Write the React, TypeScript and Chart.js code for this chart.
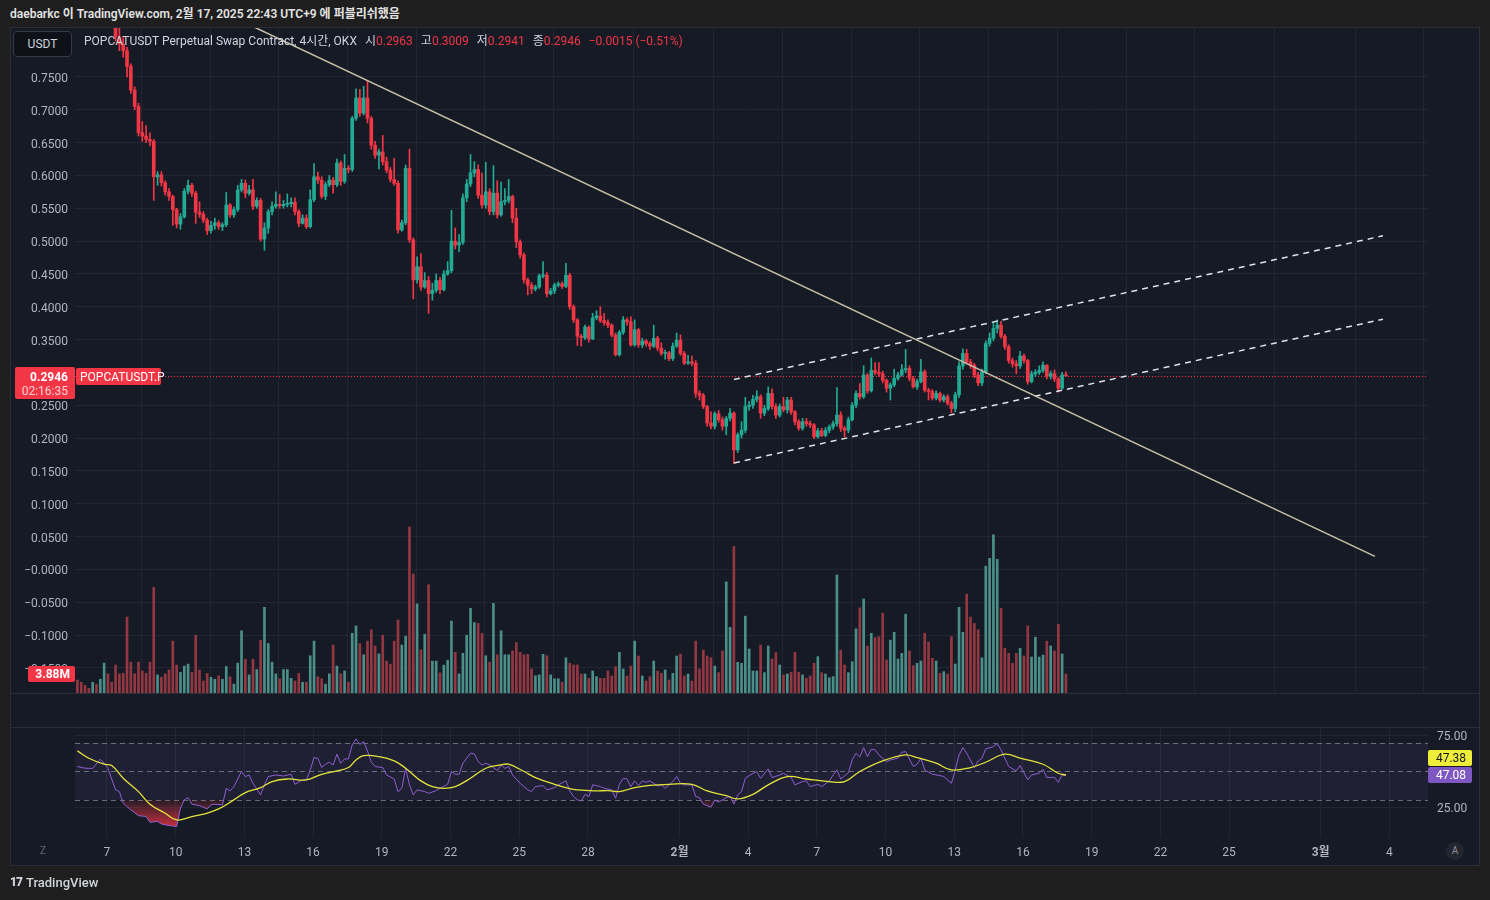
import React, { useEffect, useRef } from "react";
import { Chart, registerables } from "chart.js";

Chart.register(...registerables);

const FONT = "Roboto, 'Noto Sans CJK KR', 'Noto Sans', sans-serif";

// ---------------- data (4h candles, first one opens Jan 5 17:00 KST) ----------------
const firstOpen = 0.99;

const closes = [
  0.975, 0.962, 0.950, 0.942, 0.955, 0.935, 0.945, 0.960, 0.905, 0.862,
  0.811, 0.800, 0.790, 0.766, 0.730, 0.705, 0.665, 0.660, 0.655, 0.652,
  0.598, 0.601, 0.589, 0.575, 0.568, 0.548, 0.526, 0.537, 0.576, 0.585,
  0.573, 0.544, 0.541, 0.532, 0.516, 0.524, 0.528, 0.522, 0.525, 0.555,
  0.540, 0.548, 0.578, 0.588, 0.573, 0.578, 0.553, 0.562, 0.503, 0.520,
  0.545, 0.553, 0.556, 0.554, 0.556, 0.557, 0.559, 0.545, 0.527, 0.535,
  0.522, 0.563, 0.598, 0.593, 0.568, 0.586, 0.593, 0.586, 0.619, 0.591,
  0.611, 0.609, 0.687, 0.718, 0.695, 0.718, 0.687, 0.646, 0.631, 0.636,
  0.621, 0.608, 0.594, 0.588, 0.517, 0.528, 0.611, 0.502, 0.441, 0.461,
  0.430, 0.440, 0.420, 0.425, 0.440, 0.426, 0.450, 0.455, 0.500, 0.494,
  0.498, 0.566, 0.587, 0.604, 0.609, 0.570, 0.555, 0.575, 0.545, 0.573,
  0.540, 0.560, 0.562, 0.568, 0.535, 0.499, 0.479, 0.441, 0.433, 0.427,
  0.430, 0.447, 0.448, 0.420, 0.424, 0.433, 0.435, 0.431, 0.448, 0.400,
  0.380, 0.355, 0.353, 0.369, 0.351, 0.383, 0.386, 0.379, 0.376, 0.372,
  0.357, 0.327, 0.361, 0.380, 0.377, 0.342, 0.365, 0.342, 0.348, 0.344,
  0.340, 0.352, 0.337, 0.329, 0.330, 0.321, 0.340, 0.349, 0.329, 0.314,
  0.316, 0.314, 0.268, 0.265, 0.248, 0.223, 0.218, 0.237, 0.228, 0.218,
  0.230, 0.238, 0.182, 0.205, 0.212, 0.248, 0.250, 0.259, 0.263, 0.238,
  0.245, 0.268, 0.248, 0.235, 0.248, 0.243, 0.258, 0.240, 0.225, 0.215,
  0.225, 0.222, 0.220, 0.202, 0.211, 0.204, 0.212, 0.217, 0.222, 0.235,
  0.215, 0.212, 0.228, 0.250, 0.268, 0.263, 0.296, 0.272, 0.303, 0.300,
  0.298, 0.288, 0.276, 0.281, 0.291, 0.296, 0.304, 0.306, 0.291, 0.278,
  0.286, 0.301, 0.273, 0.271, 0.261, 0.268, 0.258, 0.263, 0.253, 0.245,
  0.266, 0.310, 0.329, 0.316, 0.311, 0.296, 0.284, 0.301, 0.344, 0.352,
  0.367, 0.372, 0.355, 0.339, 0.318, 0.313, 0.310, 0.325, 0.318, 0.286,
  0.298, 0.300, 0.303, 0.311, 0.294, 0.298, 0.290, 0.276, 0.2963, 0.2946,
];

const highs = [
  1.000, 0.985, 0.970, 0.955, 0.965, 0.960, 0.955, 0.985, 0.965, 0.910,
  0.870, 0.830, 0.810, 0.795, 0.770, 0.735, 0.710, 0.682, 0.676, 0.665,
  0.655, 0.606, 0.606, 0.592, 0.580, 0.570, 0.550, 0.542, 0.580, 0.593,
  0.588, 0.576, 0.560, 0.545, 0.535, 0.530, 0.535, 0.531, 0.528, 0.574,
  0.557, 0.552, 0.585, 0.594, 0.593, 0.585, 0.594, 0.566, 0.565, 0.528,
  0.548, 0.560, 0.575, 0.571, 0.562, 0.572, 0.566, 0.566, 0.548, 0.540,
  0.540, 0.578, 0.618, 0.605, 0.598, 0.590, 0.600, 0.597, 0.625, 0.622,
  0.632, 0.615, 0.690, 0.732, 0.731, 0.736, 0.744, 0.690, 0.652, 0.640,
  0.661, 0.628, 0.612, 0.626, 0.592, 0.532, 0.616, 0.640, 0.505, 0.476,
  0.481, 0.452, 0.446, 0.436, 0.450, 0.445, 0.455, 0.469, 0.547, 0.520,
  0.510, 0.572, 0.594, 0.632, 0.621, 0.616, 0.604, 0.620, 0.580, 0.615,
  0.592, 0.590, 0.580, 0.594, 0.570, 0.550, 0.502, 0.482, 0.444, 0.437,
  0.433, 0.450, 0.469, 0.452, 0.428, 0.436, 0.438, 0.438, 0.466, 0.451,
  0.403, 0.382, 0.358, 0.372, 0.371, 0.390, 0.394, 0.400, 0.390, 0.380,
  0.374, 0.360, 0.364, 0.385, 0.383, 0.385, 0.380, 0.367, 0.352, 0.350,
  0.347, 0.372, 0.355, 0.345, 0.334, 0.332, 0.345, 0.360, 0.357, 0.332,
  0.326, 0.325, 0.318, 0.272, 0.268, 0.250, 0.240, 0.240, 0.242, 0.232,
  0.233, 0.245, 0.240, 0.208, 0.225, 0.262, 0.256, 0.265, 0.272, 0.266,
  0.250, 0.278, 0.275, 0.252, 0.252, 0.262, 0.262, 0.262, 0.242, 0.228,
  0.230, 0.230, 0.226, 0.222, 0.215, 0.215, 0.216, 0.220, 0.226, 0.277,
  0.240, 0.218, 0.232, 0.254, 0.272, 0.283, 0.310, 0.298, 0.322, 0.315,
  0.315, 0.302, 0.290, 0.284, 0.305, 0.300, 0.312, 0.335, 0.310, 0.294,
  0.290, 0.320, 0.304, 0.276, 0.274, 0.272, 0.270, 0.266, 0.266, 0.256,
  0.270, 0.316, 0.336, 0.335, 0.320, 0.314, 0.300, 0.305, 0.348, 0.360,
  0.376, 0.380, 0.378, 0.358, 0.342, 0.322, 0.318, 0.332, 0.328, 0.320,
  0.302, 0.304, 0.310, 0.316, 0.312, 0.302, 0.304, 0.292, 0.300, 0.3009,
];

const lows = [
  0.960, 0.950, 0.940, 0.930, 0.935, 0.925, 0.925, 0.940, 0.895, 0.850,
  0.805, 0.790, 0.780, 0.750, 0.725, 0.700, 0.660, 0.652, 0.650, 0.645,
  0.562, 0.585, 0.584, 0.570, 0.562, 0.524, 0.520, 0.518, 0.535, 0.572,
  0.568, 0.527, 0.536, 0.528, 0.510, 0.512, 0.518, 0.518, 0.516, 0.522,
  0.536, 0.536, 0.545, 0.575, 0.566, 0.570, 0.548, 0.550, 0.500, 0.486,
  0.512, 0.540, 0.550, 0.550, 0.550, 0.552, 0.552, 0.540, 0.522, 0.526,
  0.519, 0.520, 0.560, 0.588, 0.565, 0.563, 0.583, 0.573, 0.583, 0.585,
  0.588, 0.604, 0.606, 0.684, 0.690, 0.692, 0.680, 0.640, 0.626, 0.610,
  0.616, 0.604, 0.590, 0.585, 0.512, 0.515, 0.525, 0.498, 0.412, 0.436,
  0.425, 0.428, 0.390, 0.410, 0.422, 0.420, 0.424, 0.448, 0.452, 0.488,
  0.484, 0.495, 0.560, 0.583, 0.598, 0.565, 0.550, 0.550, 0.540, 0.540,
  0.535, 0.538, 0.555, 0.558, 0.528, 0.490, 0.474, 0.436, 0.418, 0.420,
  0.424, 0.428, 0.444, 0.415, 0.418, 0.420, 0.430, 0.428, 0.429, 0.396,
  0.376, 0.341, 0.340, 0.350, 0.346, 0.350, 0.380, 0.376, 0.372, 0.368,
  0.354, 0.325, 0.325, 0.358, 0.372, 0.340, 0.340, 0.338, 0.338, 0.340,
  0.335, 0.338, 0.333, 0.326, 0.320, 0.318, 0.318, 0.338, 0.326, 0.312,
  0.312, 0.310, 0.262, 0.258, 0.245, 0.218, 0.214, 0.214, 0.224, 0.212,
  0.205, 0.226, 0.161, 0.178, 0.200, 0.208, 0.242, 0.245, 0.255, 0.230,
  0.234, 0.242, 0.244, 0.230, 0.232, 0.240, 0.238, 0.236, 0.220, 0.212,
  0.212, 0.218, 0.216, 0.199, 0.200, 0.202, 0.202, 0.208, 0.213, 0.218,
  0.210, 0.202, 0.208, 0.226, 0.246, 0.259, 0.260, 0.268, 0.270, 0.296,
  0.294, 0.284, 0.270, 0.258, 0.278, 0.288, 0.294, 0.300, 0.287, 0.276,
  0.274, 0.284, 0.270, 0.258, 0.258, 0.258, 0.255, 0.255, 0.250, 0.238,
  0.240, 0.262, 0.305, 0.313, 0.306, 0.292, 0.280, 0.280, 0.298, 0.340,
  0.348, 0.360, 0.352, 0.335, 0.314, 0.308, 0.298, 0.306, 0.314, 0.282,
  0.284, 0.294, 0.297, 0.300, 0.290, 0.290, 0.286, 0.270, 0.274, 0.2941,
];

// volume in millions
const volumesM = [
  2.65, 2.2, 1.6, 0.95, 2.2, 1.8, 2.8, 6.1, 3.9, 2.2,
  5.7, 3.9, 4.0, 15.5, 6.3, 3.9, 6.3, 4.5, 4.0, 6.3,
  21.6, 3.7, 3.2, 3.9, 4.7, 10.6, 5.7, 4.2, 5.5, 5.9,
  4.2, 11.8, 4.7, 2.45, 4.0, 3.2, 2.8, 3.5, 2.8, 5.4,
  3.3, 1.8, 6.1, 12.7, 6.9, 3.7, 6.9, 4.8, 10.8, 17.5,
  10.1, 6.3, 3.9, 2.9, 4.8, 4.8, 3.0, 2.45, 4.0, 2.2,
  2.2, 7.6, 10.6, 3.3, 2.9, 1.8, 3.9, 9.8, 5.5, 3.9,
  4.5, 2.2, 12.2, 13.7, 10.1, 7.8, 10.6, 12.9, 9.6, 8.0,
  11.8, 6.5, 5.9, 10.6, 14.9, 9.8, 11.6, 33.9, 24.3, 18.2,
  8.8, 12.0, 22.1, 6.5, 6.5, 4.1, 5.7, 6.7, 14.7, 8.3,
  3.9, 8.1, 11.8, 17.3, 14.4, 14.2, 12.2, 7.6, 6.3, 18.3,
  7.8, 12.7, 7.8, 7.8, 8.6, 10.3, 8.3, 7.8, 7.9, 4.9,
  3.5, 3.7, 7.9, 7.6, 3.7, 2.9, 2.9, 2.2, 7.2, 6.06,
  5.72, 5.72, 3.88, 3.88, 3.0, 4.49, 3.34, 3.0, 3.0, 4.49,
  3.47, 5.38, 8.3, 4.9, 3.47, 5.51, 10.6, 7.56, 3.47, 2.45,
  3.34, 6.53, 4.49, 4.02, 4.7, 2.65, 4.02, 7.56, 7.96, 3.47,
  3.88, 2.45, 10.6, 4.9, 8.78, 7.56, 7.2, 5.51, 4.15, 8.58,
  22.7, 13.4, 29.9, 6.26, 6.06, 15.7, 8.99, 4.49, 4.49, 9.8,
  4.15, 9.6, 6.94, 8.24, 5.72, 3.68, 3.88, 4.22, 8.3, 4.22,
  3.68, 3.0, 3.47, 6.06, 7.42, 4.15, 3.88, 3.13, 3.34, 24.1,
  8.78, 5.72, 4.15, 6.4, 13.1, 17.4, 19.2, 9.6, 12.2, 11.3,
  11.5, 16.3, 6.74, 10.8, 12.4, 6.94, 8.1, 16.1, 8.58, 5.58,
  6.06, 6.53, 12.2, 10.4, 7.08, 6.53, 4.02, 4.36, 3.88, 11.5,
  5.92, 17.5, 12.4, 20.2, 15.5, 14.2, 12.9, 7.2, 25.9, 27.5,
  32.3, 27.3, 17.3, 9.12, 8.1, 6.06, 8.1, 9.12, 7.56, 13.7,
  7.35, 11.4, 7.35, 7.76, 10.6, 9.6, 8.58, 14.0, 7.96, 3.88,
];

// RSI(14): [candle index, value]
const rsiPoints = [
  [0, 53.3], [2, 52.1], [4, 52], [6, 58.4], [7, 55.6], [8, 52], [10, 37], [11, 35.8], [12, 27.7], [14, 23],
  [16, 19], [18, 18.4], [19, 14.4], [21, 14.9], [22, 13.2], [24, 12.1], [26, 11.4], [27, 24.2], [28, 30], [29, 31.6],
  [30, 27], [32, 26], [34, 23.7], [35, 26.5], [36, 27], [38, 26.5], [39, 38], [40, 36.3], [41, 39.3], [43, 49.8],
  [44, 46.3], [45, 47.4], [46, 41.6], [48, 33.5], [49, 40.5], [50, 46.3], [52, 47.4], [54, 46.7], [56, 47.9], [57, 40.9],
  [59, 44], [60, 44], [61, 50.9], [62, 59.5], [63, 59], [64, 52.6], [65, 54.9], [66, 56.3], [67, 54.4], [68, 61.9],
  [69, 55.6], [70, 58.6], [71, 58.6], [72, 68.4], [73, 72.6], [74, 68.8], [75, 70.7], [76, 64.2], [77, 56.3], [78, 53.3],
  [80, 52.6], [81, 47.4], [83, 44.6], [84, 35.8], [85, 38.1], [86, 52.1], [87, 40.5], [88, 33.5], [89, 37], [91, 35.8],
  [92, 34.6], [94, 36.5], [95, 38.1], [97, 40.9], [98, 49.8], [99, 47.9], [100, 47.9], [101, 55.6], [102, 59.1], [103, 62.6],
  [104, 62.1], [105, 56.7], [106, 54.4], [107, 55.6], [108, 54.4], [110, 50.5], [111, 54.4], [112, 52], [113, 53.3], [114, 47.4],
  [116, 41.6], [118, 37], [119, 35.8], [120, 39.3], [122, 40], [123, 37], [125, 38.6], [126, 40.5], [128, 43.3], [129, 36.3],
  [130, 32.3], [131, 30], [132, 29.3], [133, 33.9], [134, 32.3], [135, 40.5], [136, 40], [137, 39.3], [138, 38.1], [140, 37],
  [141, 31.2], [142, 40.9], [143, 45.1], [144, 44.6], [145, 39.3], [146, 43.3], [147, 40], [148, 43.3], [149, 42.3], [150, 43.3],
  [152, 39.8], [153, 40.5], [154, 38.1], [156, 42.8], [157, 46.3], [158, 41.6], [159, 40.5], [161, 40.5], [162, 32.3], [163, 31.6],
  [164, 27], [166, 24.9], [167, 30], [168, 28.4], [170, 31.6], [171, 32.3], [172, 27], [173, 33.5], [174, 35.8], [175, 45.1],
  [176, 47], [178, 49.8], [179, 45.1], [181, 51.6], [182, 45.6], [184, 47.4], [185, 48.6], [187, 45.6], [188, 40.5], [190, 42.8],
  [191, 43.3], [192, 39.3], [194, 40.9], [195, 39.3], [197, 43.3], [198, 47.4], [199, 50.9], [200, 44.6], [202, 49], [203, 58],
  [204, 62.6], [205, 60], [206, 66.5], [207, 60.2], [208, 65.4], [209, 64.9], [210, 61.4], [212, 56.7], [213, 57.9], [215, 59.1],
  [216, 63.3], [217, 63.7], [219, 53.3], [220, 54.9], [221, 59.1], [222, 50.9], [224, 47.9], [226, 47], [227, 46.3], [229, 41.6],
  [230, 50.9], [231, 61.4], [232, 66.5], [233, 62.6], [235, 52.6], [236, 57.2], [237, 59.1], [238, 65.6], [240, 67.2], [241, 69.3],
  [242, 64.9], [244, 53.3], [246, 50.2], [247, 54], [249, 44], [250, 47.4], [252, 48.6], [253, 51.4], [254, 45.6], [256, 45.8],
  [257, 42.3], [258, 47.4], [259, 47.08],
];

// RSI-based moving average: [candle index, value]
const rsiMaPoints = [
  [0, 64.2], [3, 59.1], [7, 54.9], [9, 54], [12, 45.1], [16, 35.8], [19, 27], [23, 20.7], [26, 16], [30, 18.4],
  [33, 20], [37, 23.7], [41, 30], [44, 35.1], [48, 38.6], [51, 42.8], [55, 44.6], [60, 44], [64, 47.9], [68, 50.2],
  [71, 52.6], [73, 57.9], [75, 60.9], [79, 60.2], [83, 57.2], [86, 52.1], [90, 43.3], [93, 39.3], [96, 38.1], [99, 39.3],
  [103, 45.1], [107, 52.1], [111, 54.4], [113, 54.9], [117, 49.8], [120, 45.6], [125, 40.9], [128, 38.6], [131, 37], [136, 36.3],
  [139, 36.5], [142, 35.8], [146, 38.6], [150, 40.2], [155, 40.9], [161, 40.9], [165, 36.3], [170, 33], [173, 30.7], [177, 33.9],
  [181, 40.5], [186, 46.3], [191, 44.6], [197, 42.8], [201, 42.8], [205, 49.8], [211, 57.2], [217, 61.4], [220, 59.5], [225, 55.6],
  [229, 50.9], [234, 52.6], [238, 56.3], [243, 61.9], [247, 59.1], [253, 54.9], [257, 48.6], [259, 47.38],
];

// time axis: days from Jan 7 00:00 KST
const timeTickDays = [0, 3, 6, 9, 12, 15, 18, 21, 25, 28, 31, 34, 37, 40, 43, 46, 49, 53, 56];
const timeTickLabels = ["7", "10", "13", "16", "19", "22", "25", "28", "2월", "4", "7", "10", "13", "16", "19", "22", "25", "3월", "4"];
const monthTickDays = [25, 53];

const priceTicks = [0.75, 0.7, 0.65, 0.6, 0.55, 0.5, 0.45, 0.4, 0.35, 0.3, 0.25, 0.2, 0.15, 0.1, 0.05, 0, -0.05, -0.1, -0.15];
const rsiTicks = [75, 25];
const rsiLevels = [70, 50, 30];

// drawings: [day, price]
const trendLine = [[5.0, 0.8495], [55.37, 0.0199]];
const channelUpper = [[27.38, 0.2893], [55.72, 0.5081]];
const channelLower = [[27.38, 0.1621], [55.72, 0.3811]];

const lastPrice = 0.2946;
const lastVolumeM = 3.88;
const lastRsi = 47.08;
const lastRsiMa = 47.38;
const symbol = "POPCATUSDT.P";
const countdown = "02:16:35";
const ohlcText = { o: "0.2963", h: "0.3009", l: "0.2941", c: "0.2946", chg: "−0.0015 (−0.51%)" };

// ---------------- view ----------------
const X_MIN = -1.397;
const X_MAX = 57.686;
const P_MIN = -0.1883;
const P_MAX = 0.8246;
const VOL_MAX = 135.8;
const RSI_MIN = 3.4;
const RSI_MAX = 80.2;

const UP = "#22ab94";
const DOWN = "#f23645";
const VOL_UP = "#4b8f89";
const VOL_DOWN = "#933842";
const GRID = "#222632";
const TEXT = "#b2b5be";
const PANE_BG = "#161a25";

const dayOf = (i: number) => (4 * i - 31) / 24;

function rr(ctx: any, x: number, y: number, w: number, h: number, r: number) {
  ctx.beginPath();
  if (ctx.roundRect) ctx.roundRect(x, y, w, h, r);
  else ctx.rect(x, y, w, h);
}

const mainOverlay = {
  id: "mainOverlay",
  beforeDatasetsDraw(chart: any) {
    const { ctx, chartArea: a, scales } = chart;
    const y = Math.round(scales.y.getPixelForValue(lastPrice)) + 0.5;
    ctx.save();
    ctx.strokeStyle = DOWN;
    ctx.lineWidth = 1;
    ctx.setLineDash([1, 2]);
    ctx.beginPath();
    ctx.moveTo(a.left, y);
    ctx.lineTo(a.right, y);
    ctx.stroke();
    ctx.restore();
  },
  afterDraw(chart: any) {
    const { ctx, scales } = chart;
    const y = Math.round(scales.y.getPixelForValue(lastPrice));
    ctx.save();
    ctx.fillStyle = DOWN;
    rr(ctx, 5, y - 9, 60, 32, 2);
    ctx.fill();
    rr(ctx, 66, y - 8, 85, 17, 2);
    ctx.fill();
    ctx.textBaseline = "middle";
    ctx.textAlign = "right";
    ctx.fillStyle = "#ffffff";
    ctx.font = `bold 12px ${FONT}`;
    ctx.fillText(lastPrice.toFixed(4), 58, y + 1.5);
    ctx.font = `12px ${FONT}`;
    ctx.fillStyle = "rgba(255,225,228,0.9)";
    ctx.fillText(countdown, 58, y + 15.5);
    ctx.textAlign = "left";
    ctx.fillStyle = "#ffffff";
    ctx.fillText(symbol, 70, y + 1.5);

    const vy = Math.round(scales.yv.getPixelForValue(lastVolumeM));
    ctx.fillStyle = DOWN;
    rr(ctx, 18, vy - 8, 47, 16, 2);
    ctx.fill();
    ctx.fillStyle = "#ffffff";
    ctx.textAlign = "right";
    ctx.font = `bold 12px ${FONT}`;
    ctx.fillText(`${lastVolumeM.toFixed(2)}M`, 60, vy + 1);
    ctx.restore();
  },
};

const rsiOverlay = {
  id: "rsiOverlay",
  beforeDatasetsDraw(chart: any) {
    const { ctx, chartArea: a, scales } = chart;
    const ys = scales.y;
    const y70 = ys.getPixelForValue(70);
    const y30 = ys.getPixelForValue(30);
    ctx.save();
    ctx.fillStyle = "rgba(126,87,194,0.1)";
    ctx.fillRect(a.left, y70, a.right - a.left, y30 - y70);
    ctx.strokeStyle = "rgba(120,123,134,0.85)";
    ctx.lineWidth = 1;
    ctx.setLineDash([5, 4]);
    rsiLevels.forEach((v) => {
      const py = Math.round(ys.getPixelForValue(v)) + 0.5;
      ctx.beginPath();
      ctx.moveTo(a.left, py);
      ctx.lineTo(a.right, py);
      ctx.stroke();
    });
    ctx.restore();
  },
  afterDraw(chart: any) {
    const { ctx, chartArea: a, scales } = chart;
    const py = Math.round(scales.y.getPixelForValue(lastRsi));
    ctx.save();
    ctx.font = `12px ${FONT}`;
    ctx.textAlign = "center";
    ctx.textBaseline = "middle";
    // MA label (pushed up to avoid overlap)
    ctx.fillStyle = "#eded3a";
    rr(ctx, a.right, py - 25, 44, 16, 2);
    ctx.fill();
    ctx.fillStyle = "#131722";
    ctx.fillText(lastRsiMa.toFixed(2), a.right + 23, py - 16);
    // RSI label
    ctx.fillStyle = "#7e57c2";
    rr(ctx, a.right, py - 8, 44, 16, 2);
    ctx.fill();
    ctx.fillStyle = "#ffffff";
    ctx.fillText(lastRsi.toFixed(2), a.right + 23, py + 1);
    ctx.restore();
  },
};

export default function App() {
  const mainRef = useRef<HTMLCanvasElement>(null);
  const rsiRef = useRef<HTMLCanvasElement>(null);

  useEffect(() => {
    Chart.defaults.font.family = FONT;
    Chart.defaults.color = TEXT;

    const n = Math.min(closes.length, highs.length, lows.length, volumesM.length);
    const isUp: boolean[] = [];
    const bodies: any[] = [];
    const wicks: any[] = [];
    const vols: any[] = [];
    for (let i = 0; i < n; i++) {
      const o = i === 0 ? firstOpen : closes[i - 1];
      const c = closes[i];
      const hi = Math.max(highs[i], o, c);
      const lo = Math.min(lows[i], o, c);
      const x = dayOf(i);
      isUp.push(c >= o);
      bodies.push({ x, y: [Math.min(o, c), Math.max(o, c)] });
      wicks.push({ x, y: [lo, hi] });
      vols.push({ x, y: volumesM[i] });
    }
    const candleColors = isUp.map((u) => (u ? UP : DOWN));
    const volColors = isUp.map((u) => (u ? VOL_UP : VOL_DOWN));
    const pts = (arr: number[][]) => arr.map(([x, y]) => ({ x, y }));

    const setTimeTicks = (s: any) => {
      s.ticks = timeTickDays.map((v) => ({ value: v }));
    };

    const main = new Chart(mainRef.current as HTMLCanvasElement, {
      type: "bar",
      data: {
        datasets: [
          { type: "line", data: pts(trendLine), borderColor: "#c9c0a8", borderWidth: 1.5, pointRadius: 0, order: 1 } as any,
          { type: "line", data: pts(channelUpper), borderColor: "#dfe2ea", borderWidth: 1.5, borderDash: [6, 5], pointRadius: 0, order: 1 } as any,
          { type: "line", data: pts(channelLower), borderColor: "#dfe2ea", borderWidth: 1.5, borderDash: [6, 5], pointRadius: 0, order: 1 } as any,
          { type: "bar", data: bodies, backgroundColor: candleColors, barThickness: 3, minBarLength: 1, grouped: false, order: 3, clip: 0 } as any,
          { type: "bar", data: wicks, backgroundColor: candleColors, barThickness: 1, grouped: false, order: 4, clip: 0 } as any,
          { type: "bar", data: vols, yAxisID: "yv", backgroundColor: volColors, barThickness: 2, grouped: false, order: 5, clip: 0 } as any,
        ],
      },
      options: {
        responsive: false,
        animation: false,
        events: [],
        layout: { padding: { left: 0, right: 52, top: 0, bottom: 0 } },
        plugins: { legend: { display: false }, tooltip: { enabled: false } },
        scales: {
          x: {
            type: "linear",
            min: X_MIN,
            max: X_MAX,
            offset: false,
            ticks: { display: false },
            grid: { color: GRID, drawTicks: false },
            border: { display: false },
            afterBuildTicks: setTimeTicks,
            afterFit: (s: any) => {
              s.height = 0;
              s.paddingLeft = 0;
              s.paddingRight = 0;
            },
          },
          y: {
            type: "linear",
            position: "left",
            min: P_MIN,
            max: P_MAX,
            afterBuildTicks: (s: any) => {
              s.ticks = priceTicks.map((v) => ({ value: v }));
            },
            ticks: {
              autoSkip: false,
              padding: 7,
              labelOffset: 2,
              color: TEXT,
              font: { family: FONT, size: 12 },
              callback: (v: any) => (v <= 0.000001 ? "−" : "") + Math.abs(Number(v)).toFixed(4),
            },
            grid: { color: GRID, drawTicks: false },
            border: { display: false },
            afterFit: (s: any) => {
              s.width = 65;
              s.paddingTop = 0;
              s.paddingBottom = 0;
            },
          },
          yv: { type: "linear", display: false, min: 0, max: VOL_MAX },
        },
      } as any,
      plugins: [mainOverlay as any],
    });

    const rc = rsiRef.current as HTMLCanvasElement;
    const g = rc.getContext("2d") as CanvasRenderingContext2D;
    const yOf = (v: number) => (110 * (RSI_MAX - v)) / (RSI_MAX - RSI_MIN);
    const grad = g.createLinearGradient(0, yOf(30), 0, yOf(10));
    grad.addColorStop(0, "rgba(242,54,69,0.08)");
    grad.addColorStop(1, "rgba(242,54,69,0.85)");

    const rsi = new Chart(rc, {
      type: "line",
      data: {
        datasets: [
          {
            data: rsiMaPoints.map(([i, v]) => ({ x: dayOf(i), y: v })),
            borderColor: "#e4e43a",
            borderWidth: 1.3,
            pointRadius: 0,
            tension: 0.4,
            order: 1,
          } as any,
          {
            data: rsiPoints.map(([i, v]) => ({ x: dayOf(i), y: v })),
            borderColor: "#8e5fd0",
            borderWidth: 1,
            pointRadius: 0,
            tension: 0,
            fill: { target: { value: 30 }, above: "rgba(0,0,0,0)", below: grad },
            order: 2,
          } as any,
        ],
      },
      options: {
        responsive: false,
        animation: false,
        events: [],
        layout: { padding: { left: 65, right: 0, top: 0, bottom: 0 } },
        plugins: { legend: { display: false }, tooltip: { enabled: false } },
        scales: {
          x: {
            type: "linear",
            min: X_MIN,
            max: X_MAX,
            offset: false,
            afterBuildTicks: setTimeTicks,
            ticks: {
              autoSkip: false,
              maxRotation: 0,
              padding: 8,
              color: TEXT,
              font: (c: any) => ({
                family: FONT,
                size: 12,
                weight: c.tick && monthTickDays.includes(c.tick.value) ? "bold" : "normal",
              }),
              callback: (v: any) => {
                const k = timeTickDays.indexOf(Number(v));
                return k >= 0 ? timeTickLabels[k] : "";
              },
            },
            grid: { color: GRID, drawTicks: false },
            border: { display: false },
            afterFit: (s: any) => {
              s.height = 28;
              s.paddingLeft = 0;
              s.paddingRight = 0;
            },
          },
          y: {
            type: "linear",
            position: "right",
            min: RSI_MIN,
            max: RSI_MAX,
            afterBuildTicks: (s: any) => {
              s.ticks = rsiTicks.map((v) => ({ value: v }));
            },
            ticks: {
              autoSkip: false,
              padding: 9,
              labelOffset: 1.5,
              color: TEXT,
              font: { family: FONT, size: 12 },
              callback: (v: any) => Number(v).toFixed(2),
            },
            grid: { color: GRID, drawTicks: false },
            border: { display: false },
            afterFit: (s: any) => {
              s.width = 52;
              s.paddingTop = 0;
              s.paddingBottom = 0;
            },
          },
        },
      } as any,
      plugins: [rsiOverlay as any],
    });

    return () => {
      main.destroy();
      rsi.destroy();
    };
  }, []);

  const abs = (o: any) => ({ position: "absolute" as const, ...o });

  return (
    <div
      style={abs({
        left: 0,
        top: 0,
        width: 1490,
        height: 900,
        background: "#1e1e1e",
        overflow: "hidden",
        fontFamily: FONT,
      })}
    >
      <div style={abs({ left: 10, top: 6, fontSize: 12, fontWeight: 600, color: "#e3e3e3", lineHeight: "16px", whiteSpace: "nowrap" })}>
        daebarkc 이 TradingView.com, 2월 17, 2025 22:43 UTC+9 에 퍼블리쉬했음
      </div>

      <div style={abs({ left: 10, top: 27, width: 1470, height: 839, background: PANE_BG, border: "1px solid #2a2e39", boxSizing: "border-box" })} />

      <canvas ref={mainRef} width={1470} height={665} style={abs({ left: 10, top: 28, width: 1470, height: 665 })} />

      <div style={abs({ left: 10, top: 693, width: 1470, height: 1, background: "#2a2e39" })} />
      <div style={abs({ left: 10, top: 727, width: 1470, height: 1, background: "#2a2e39" })} />

      <canvas ref={rsiRef} width={1470} height={138} style={abs({ left: 10, top: 728, width: 1470, height: 138 })} />

      {/* legend inside main pane */}
      <div
        style={abs({
          left: 13,
          top: 31,
          width: 59,
          height: 26,
          boxSizing: "border-box",
          border: "1px solid #363a45",
          borderRadius: 4,
          background: "#0f1118",
          color: "#d1d4dc",
          fontSize: 12,
          lineHeight: "24px",
          textAlign: "center",
        })}
      >
        USDT
      </div>
      <div style={abs({ left: 84, top: 34, fontSize: 12, lineHeight: "14px", color: "#d1d4dc", whiteSpace: "nowrap" })}>
        <span>POPCATUSDT Perpetual Swap Contract, 4시간, OKX</span>
        <span style={{ marginLeft: 8 }}>시</span>
        <span style={{ color: DOWN }}>{ohlcText.o}</span>
        <span style={{ marginLeft: 8 }}>고</span>
        <span style={{ color: DOWN }}>{ohlcText.h}</span>
        <span style={{ marginLeft: 8 }}>저</span>
        <span style={{ color: DOWN }}>{ohlcText.l}</span>
        <span style={{ marginLeft: 8 }}>종</span>
        <span style={{ color: DOWN }}>{ohlcText.c}</span>
        <span style={{ marginLeft: 8, color: DOWN }}>{ohlcText.chg}</span>
      </div>

      {/* axis corner buttons */}
      <div style={abs({ left: 36, top: 844, width: 14, height: 14, fontSize: 10, lineHeight: "14px", textAlign: "center", color: "#6a6d78" })}>Z</div>
      <div
        style={abs({
          left: 1446,
          top: 842,
          width: 18,
          height: 18,
          borderRadius: 9,
          background: "#22262f",
          fontSize: 10,
          lineHeight: "18px",
          textAlign: "center",
          color: "#8a8d96",
        })}
      >
        A
      </div>

      {/* watermark */}
      <div style={abs({ left: 10, top: 874, height: 16, display: "flex", alignItems: "center", color: "#d1d4dc", whiteSpace: "nowrap" })}>
        <span style={{ fontSize: 12, fontWeight: 900, letterSpacing: -1, marginRight: 4 }}>17</span>
        <span style={{ fontSize: 13, fontWeight: 500 }}>TradingView</span>
      </div>
    </div>
  );
}
